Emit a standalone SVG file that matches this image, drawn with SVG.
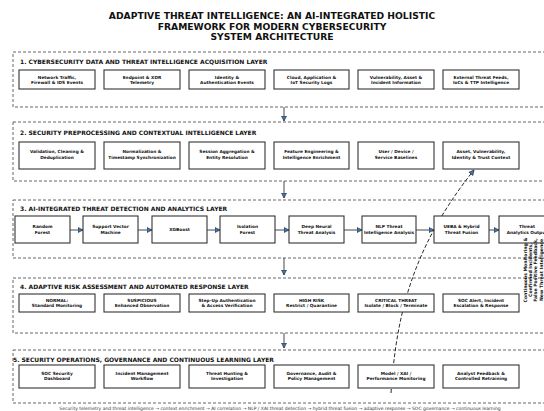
<svg xmlns="http://www.w3.org/2000/svg" width="544" height="411" viewBox="0 0 544 411">
<style>
.t{font-family:"DejaVu Sans",Verdana,sans-serif;font-weight:bold;fill:#111}
.title{font-size:9.2px;text-anchor:middle}
.hdr{font-size:6px}
.bt{font-size:4.3px;text-anchor:middle}
.layer{fill:#fff;stroke:#555;stroke-width:0.9;stroke-dasharray:3,2}
.nb{fill:#fff;stroke:#333;stroke-width:1.1}
.conn{stroke:#333;stroke-width:0.9;fill:none}
.fb{stroke:#111;stroke-width:0.9;fill:none;stroke-dasharray:4,2}
.foot{font-size:4.5px;text-anchor:middle;font-weight:normal;fill:#333}
.side{font-size:4.6px;text-anchor:middle}
</style>
<defs>
<marker id="ar" markerUnits="userSpaceOnUse" markerWidth="7" markerHeight="7" refX="5.5" refY="3" orient="auto">
<path d="M0.5,0.5 L5.5,3 L0.5,5.5 Z" fill="#3a78b5" stroke="#222" stroke-width="0.6"/>
</marker>
</defs>
<rect width="544" height="411" fill="#fff"/>
<g id="title">
<text class="t title" x="272" y="19">ADAPTIVE THREAT INTELLIGENCE: AN AI-INTEGRATED HOLISTIC</text>
<text class="t title" x="272" y="29.5">FRAMEWORK FOR MODERN CYBERSECURITY</text>
<text class="t title" x="272" y="40">SYSTEM ARCHITECTURE</text>
</g>
<g id="layers">
<g id="layer1"><rect class="layer" x="13" y="52" width="540" height="55"/><text class="t hdr" x="20" y="64">1. CYBERSECURITY DATA AND THREAT INTELLIGENCE ACQUISITION LAYER</text></g>
<g id="layer2"><rect class="layer" x="13" y="122" width="540" height="59"/><text class="t hdr" x="20" y="135">2. SECURITY PREPROCESSING AND CONTEXTUAL INTELLIGENCE LAYER</text></g>
<g id="layer3"><rect class="layer" x="13" y="200" width="540" height="58"/><text class="t hdr" x="20" y="211">3. AI-INTEGRATED THREAT DETECTION AND ANALYTICS LAYER</text></g>
<g id="layer4"><rect class="layer" x="13" y="278" width="540" height="55"/><text class="t hdr" x="20" y="289">4. ADAPTIVE RISK ASSESSMENT AND AUTOMATED RESPONSE LAYER</text></g>
<g id="layer5"><rect class="layer" x="13" y="350" width="540" height="53"/><text class="t hdr" x="13" y="362">5. SECURITY OPERATIONS, GOVERNANCE AND CONTINUOUS LEARNING LAYER</text></g>
</g>
<g id="connectors">
<path class="conn" d="M284,107 V121" marker-end="url(#ar)"/>
<path class="conn" d="M284,181 V198" marker-end="url(#ar)"/>
<path class="conn" d="M284,258 V275" marker-end="url(#ar)"/>
<path class="conn" d="M284,333 V348" marker-end="url(#ar)"/>
<path class="conn" d="M70,230 H83" marker-end="url(#ar)"/>
<path class="conn" d="M138,230 H152" marker-end="url(#ar)"/>
<path class="conn" d="M207,230 H220" marker-end="url(#ar)"/>
<path class="conn" d="M275,230 H289" marker-end="url(#ar)"/>
<path class="conn" d="M344,230 H362" marker-end="url(#ar)"/>
<path class="conn" d="M416,230 H434" marker-end="url(#ar)"/>
<path class="conn" d="M489,230 H499" marker-end="url(#ar)"/>
<path class="fb" d="M391,393 C396,320 410,250 474,170" marker-end="url(#ar)"/>
</g>
<g id="n1a"><rect class="nb" x="19" y="70" width="76" height="19"/><text class="t bt" x="57" y="78.5">Network Traffic,</text><text class="t bt" x="57" y="84">Firewall &amp; IDS Events</text></g>
<g id="n1b"><rect class="nb" x="104" y="70" width="76" height="19"/><text class="t bt" x="142" y="78.5">Endpoint &amp; XDR</text><text class="t bt" x="142" y="84">Telemetry</text></g>
<g id="n1c"><rect class="nb" x="189" y="70" width="76" height="19"/><text class="t bt" x="227" y="78.5">Identity &amp;</text><text class="t bt" x="227" y="84">Authentication Events</text></g>
<g id="n1d"><rect class="nb" x="274" y="70" width="75" height="19"/><text class="t bt" x="311.5" y="78.5">Cloud, Application &amp;</text><text class="t bt" x="311.5" y="84">IoT Security Logs</text></g>
<g id="n1e"><rect class="nb" x="358" y="70" width="76" height="19"/><text class="t bt" x="396" y="78.5">Vulnerability, Asset &amp;</text><text class="t bt" x="396" y="84">Incident Information</text></g>
<g id="n1f"><rect class="nb" x="443" y="70" width="76" height="19"/><text class="t bt" x="481" y="78.5">External Threat Feeds,</text><text class="t bt" x="481" y="84">IoCs &amp; TTP Intelligence</text></g>

<g id="n2a"><rect class="nb" x="19" y="142" width="76" height="27"/><text class="t bt" x="57" y="153">Validation, Cleaning &amp;</text><text class="t bt" x="57" y="158.5">Deduplication</text></g>
<g id="n2b"><rect class="nb" x="104" y="142" width="76" height="27"/><text class="t bt" x="142" y="153">Normalization &amp;</text><text class="t bt" x="142" y="158.5">Timestamp Synchronization</text></g>
<g id="n2c"><rect class="nb" x="189" y="142" width="76" height="27"/><text class="t bt" x="227" y="153">Session Aggregation &amp;</text><text class="t bt" x="227" y="158.5">Entity Resolution</text></g>
<g id="n2d"><rect class="nb" x="274" y="142" width="75" height="27"/><text class="t bt" x="311.5" y="153">Feature Engineering &amp;</text><text class="t bt" x="311.5" y="158.5">Intelligence Enrichment</text></g>
<g id="n2e"><rect class="nb" x="358" y="142" width="76" height="27"/><text class="t bt" x="396" y="153">User / Device /</text><text class="t bt" x="396" y="158.5">Service Baselines</text></g>
<g id="n2f"><rect class="nb" x="443" y="142" width="76" height="27"/><text class="t bt" x="481" y="153">Asset, Vulnerability,</text><text class="t bt" x="481" y="158.5">Identity &amp; Trust Context</text></g>

<g id="n3a"><rect class="nb" x="15" y="216" width="55" height="27"/><text class="t bt" x="42.5" y="228">Random</text><text class="t bt" x="42.5" y="233.5">Forest</text></g>
<g id="n3b"><rect class="nb" x="83" y="216" width="55" height="27"/><text class="t bt" x="110.5" y="228">Support Vector</text><text class="t bt" x="110.5" y="233.5">Machine</text></g>
<g id="n3c"><rect class="nb" x="152" y="216" width="55" height="27"/><text class="t bt" x="179.5" y="231">XGBoost</text></g>
<g id="n3d"><rect class="nb" x="220" y="216" width="55" height="27"/><text class="t bt" x="247.5" y="228">Isolation</text><text class="t bt" x="247.5" y="233.5">Forest</text></g>
<g id="n3e"><rect class="nb" x="289" y="216" width="55" height="27"/><text class="t bt" x="316.5" y="228">Deep Neural</text><text class="t bt" x="316.5" y="233.5">Threat Analysis</text></g>
<g id="n3f"><rect class="nb" x="362" y="216" width="54" height="27"/><text class="t bt" x="389" y="228">NLP Threat</text><text class="t bt" x="389" y="233.5">Intelligence Analysis</text></g>
<g id="n3g"><rect class="nb" x="434" y="216" width="55" height="27"/><text class="t bt" x="461.5" y="228">UEBA &amp; Hybrid</text><text class="t bt" x="461.5" y="233.5">Threat Fusion</text></g>
<g id="n3h"><rect class="nb" x="499" y="216" width="56" height="27"/><text class="t bt" x="527" y="228">Threat</text><text class="t bt" x="527" y="233.5">Analytics Output</text></g>

<g id="n4a"><rect class="nb" x="19" y="294" width="76" height="18"/><text class="t bt" x="57" y="301.5">NORMAL:</text><text class="t bt" x="57" y="306.5">Standard Monitoring</text></g>
<g id="n4b"><rect class="nb" x="104" y="294" width="76" height="18"/><text class="t bt" x="142" y="301.5">SUSPICIOUS</text><text class="t bt" x="142" y="306.5">Enhanced Observation</text></g>
<g id="n4c"><rect class="nb" x="189" y="294" width="76" height="18"/><text class="t bt" x="227" y="301.5">Step-Up Authentication</text><text class="t bt" x="227" y="306.5">&amp; Access Verification</text></g>
<g id="n4d"><rect class="nb" x="274" y="294" width="75" height="18"/><text class="t bt" x="311.5" y="301.5">HIGH RISK</text><text class="t bt" x="311.5" y="306.5">Restrict / Quarantine</text></g>
<g id="n4e"><rect class="nb" x="358" y="294" width="76" height="18"/><text class="t bt" x="396" y="301.5">CRITICAL THREAT</text><text class="t bt" x="396" y="306.5">Isolate / Block / Terminate</text></g>
<g id="n4f"><rect class="nb" x="443" y="294" width="76" height="18"/><text class="t bt" x="481" y="301.5">SOC Alert, Incident</text><text class="t bt" x="481" y="306.5">Escalation &amp; Response</text></g>

<g id="n5a"><rect class="nb" x="19" y="365" width="76" height="23"/><text class="t bt" x="57" y="374.5">SOC Security</text><text class="t bt" x="57" y="380">Dashboard</text></g>
<g id="n5b"><rect class="nb" x="104" y="365" width="76" height="23"/><text class="t bt" x="142" y="374.5">Incident Management</text><text class="t bt" x="142" y="380">Workflow</text></g>
<g id="n5c"><rect class="nb" x="189" y="365" width="76" height="23"/><text class="t bt" x="227" y="374.5">Threat Hunting &amp;</text><text class="t bt" x="227" y="380">Investigation</text></g>
<g id="n5d"><rect class="nb" x="274" y="365" width="75" height="23"/><text class="t bt" x="311.5" y="374.5">Governance, Audit &amp;</text><text class="t bt" x="311.5" y="380">Policy Management</text></g>
<g id="n5e"><rect class="nb" x="358" y="365" width="76" height="23"/><text class="t bt" x="396" y="374.5">Model / XAI /</text><text class="t bt" x="396" y="380">Performance Monitoring</text></g>
<g id="n5f"><rect class="nb" x="443" y="365" width="76" height="23"/><text class="t bt" x="481" y="374.5">Analyst Feedback &amp;</text><text class="t bt" x="481" y="380">Controlled Retraining</text></g>

<g id="side-label" transform="translate(533,270) rotate(-90)">
<text class="t side" x="0" y="-6">Continuous Monitoring &amp;</text>
<text class="t side" x="0" y="-0.8">Confirmed Incidents,</text>
<text class="t side" x="0" y="4.4">False Positive Feedback,</text>
<text class="t side" x="0" y="9.6">New Threat Intelligence</text>
</g>
<text class="t foot" x="280" y="410">Security telemetry and threat intelligence → context enrichment → AI correlation → NLP / XAI threat detection → hybrid threat fusion → adaptive response → SOC governance → continuous learning</text>
</svg>
